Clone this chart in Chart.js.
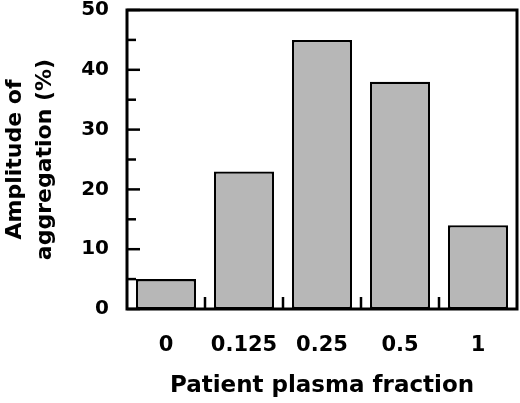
<!DOCTYPE html>
<html>
<head>
<meta charset="utf-8">
<script src="https://cdn.jsdelivr.net/npm/chart.js@4.4.1/dist/chart.umd.min.js"></script>
<style>
  html, body { margin: 0; padding: 0; background: #fff; }
  #wrap { width: 520px; height: 403px; position: relative; }
</style>
</head>
<body>
<div id="wrap"><canvas id="aggChart"></canvas></div>
<script>
/* data */
const fractions   = ['0', '0.125', '0.25', '0.5', '1'];
const amplitudes  = [5, 23, 45, 38, 14];
const yTickValues = [0, 10, 20, 30, 40, 50];

const FONT = 'DejaVu Sans';

/* box round the plot plus inward tick marks */
const frameTicks = {
  id: 'frameTicks',
  afterDatasetsDraw(chart) {
    const { ctx, chartArea: a, scales: { x, y } } = chart;
    ctx.save();
    ctx.strokeStyle = '#000';
    ctx.lineCap = 'butt';

    // y ticks: major at labelled values, minor in between
    ctx.lineWidth = 2.5;
    y.ticks.forEach(t => {
      const py = y.getPixelForValue(t.value);
      const len = yTickValues.includes(t.value) ? 13 : 9;
      ctx.beginPath();
      ctx.moveTo(a.left, py);
      ctx.lineTo(a.left + len, py);
      ctx.stroke();
    });

    // x ticks between the bars
    for (let i = 0; i < fractions.length - 1; i++) {
      const px = (x.getPixelForValue(i) + x.getPixelForValue(i + 1)) / 2;
      ctx.beginPath();
      ctx.moveTo(px, a.bottom);
      ctx.lineTo(px, a.bottom - 12);
      ctx.stroke();
    }

    ctx.lineWidth = 3;
    ctx.strokeRect(a.left, a.top, a.right - a.left, a.bottom - a.top);
    ctx.restore();
  }
};

new Chart(document.getElementById('aggChart'), {
  type: 'bar',
  data: {
    labels: fractions,
    datasets: [{
      data: amplitudes,
      backgroundColor: '#b7b7b7',
      borderColor: '#000',
      borderWidth: 2.3,
      borderSkipped: false,
      categoryPercentage: 1,
      barPercentage: 0.77
    }]
  },
  options: {
    responsive: true, maintainAspectRatio: false,
    animation: false,
    layout: { padding: { top: 10, right: 3, left: 0, bottom: 0 } },
    plugins: { legend: { display: false }, tooltip: { enabled: false } },
    scales: {
      x: {
        grid: { display: false },
        border: { display: false },
        ticks: {
          color: '#000', padding: 16,
          font: { family: FONT, size: 21, weight: 'bold' }
        },
        title: {
          display: true, text: 'Patient plasma fraction', color: '#000',
          padding: { top: 0, bottom: 3 },
          font: { family: FONT, size: 23, weight: 'bold' }
        },
        afterFit(s) { s.height = 94; s.paddingLeft = 0; s.paddingRight = 0; }
      },
      y: {
        min: 0, max: 50,
        grid: { display: false, drawTicks: false },
        border: { display: false },
        ticks: {
          stepSize: 5, autoSkip: false, color: '#000', padding: 18,
          font: { family: FONT, size: 20, weight: 'bold' },
          callback: v => (yTickValues.includes(v) ? v : '')
        },
        title: {
          display: true, text: ['Amplitude of', 'aggregation (%)'], color: '#000',
          padding: { top: 0, bottom: 0 },
          font: { family: FONT, size: 22, weight: 'bold', lineHeight: 30 / 22 }
        },
        afterFit(s) { s.width = 127; s.paddingTop = 0; s.paddingBottom = 0; }
      }
    }
  },
  plugins: [frameTicks]
});
</script>
</body>
</html>
